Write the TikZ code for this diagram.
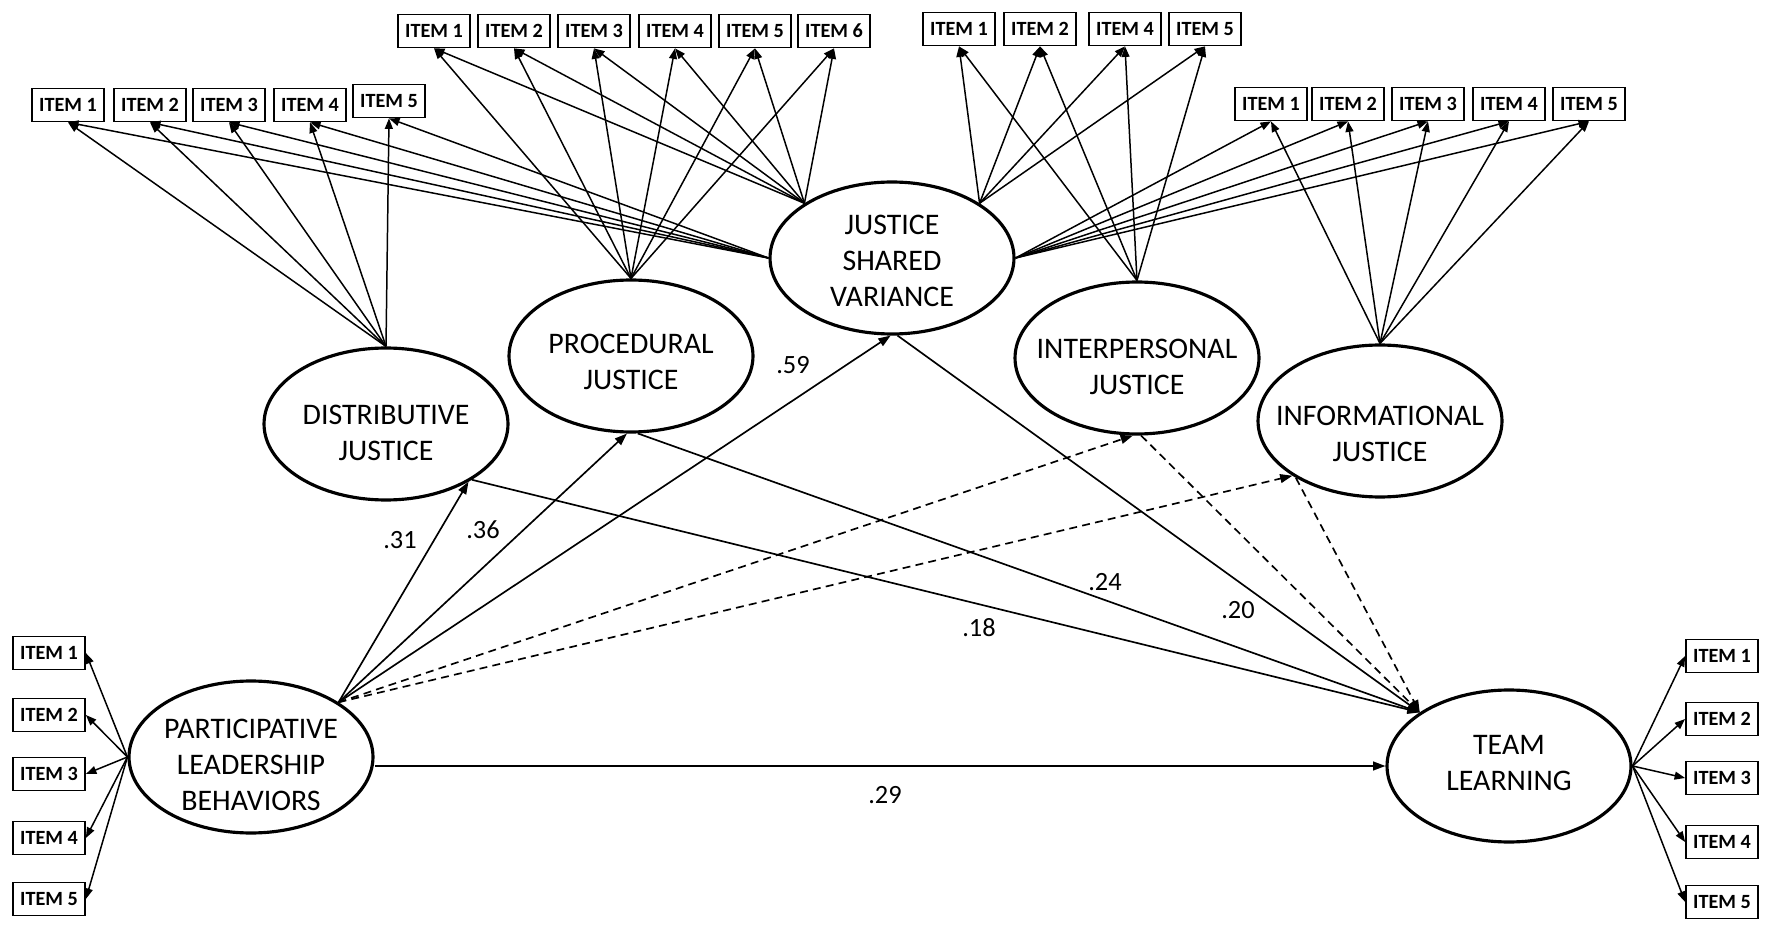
\documentclass[tikz,border=0pt]{standalone}
\usepackage{fontspec}
\setmainfont{Carlito}
\usetikzlibrary{arrows.meta,shapes.geometric}
\begin{document}
\begin{tikzpicture}[x=0.02cm,y=-0.02cm,
  lat/.style={draw,ellipse,line width=1.8pt,minimum width=4.88cm,minimum height=3.04cm,inner sep=0pt},
  lattext/.style={align=center,font=\fontsize{17}{20.5}\selectfont},
  item/.style={draw,rectangle,line width=1pt,minimum width=1.44cm,minimum height=0.66cm,inner sep=0pt,font=\fontsize{11.5}{13}\selectfont\bfseries},
  ld/.style={-{Triangle[length=6pt,width=4.5pt]},line width=0.85pt},
  strc/.style={-{Triangle[length=7pt,width=5pt]},line width=0.95pt},
  dsh/.style={strc,dash pattern=on 4.5pt off 3pt},
  coef/.style={font=\fontsize{15}{18}\selectfont}
]
\useasboundingbox (0,0) rectangle (1772,932);

% latent variables
\node[lat,label={[lattext,yshift=-0.18cm]center:{DISTRIBUTIVE\\JUSTICE}}] (dj) at (386,424) {};
\node[lat,label={[lattext,yshift=-0.12cm]center:{PROCEDURAL\\JUSTICE}}] (pj) at (631,356) {};
\node[lat,label={[lattext,yshift=-0.06cm]center:{JUSTICE\\SHARED\\VARIANCE}}] (jsv) at (892,258) {};
\node[lat,label={[lattext,yshift=-0.18cm]center:{INTERPERSONAL\\JUSTICE}}] (ipj) at (1137,358) {};
\node[lat,label={[lattext,yshift=-0.26cm]center:{INFORMATIONAL\\JUSTICE}}] (infj) at (1380,421) {};
\node[lat,label={[lattext,yshift=-0.16cm]center:{PARTICIPATIVE\\LEADERSHIP\\BEHAVIORS}}] (pl) at (251,757) {};
\node[lat,label={[lattext,yshift=0.06cm]center:{TEAM\\LEARNING}}] (tl) at (1509,766) {};

% indicator items
\foreach \i/\x/\y in {1/68/105,2/150/105,3/229/105,4/310/105,5/389/101}
  \node[item] (dji\i) at (\x,\y) {ITEM \i};
\foreach \i/\x in {1/434,2/514,3/594,4/675,5/755,6/834}
  \node[item] (pji\i) at (\x,31) {ITEM \i};
\foreach \i/\x in {1/959,2/1040,4/1125,5/1205}
  \node[item] (iji\i) at (\x,29) {ITEM \i};
\foreach \i/\x in {1/1271,2/1348,3/1428,4/1509,5/1589}
  \node[item] (ifi\i) at (\x,104) {ITEM \i};
\foreach \i/\y in {1/653,2/715,3/774,4/838,5/899}
  \node[item] (pli\i) at (49,\y) {ITEM \i};
\foreach \i/\y in {1/656,2/719,3/778,4/842,5/902}
  \node[item] (tli\i) at (1722,\y) {ITEM \i};

% loadings
\foreach \i in {1,...,5} {
  \draw[ld] (dj.north) -- (dji\i.south);
  \draw[ld] (jsv.west) -- (dji\i.south);
}
\foreach \i in {1,...,6} {
  \draw[ld] (pj.north) -- (pji\i.south);
  \draw[ld] (jsv.148) -- (pji\i.south);
}
\foreach \i in {1,2,4,5} {
  \draw[ld] (ipj.north) -- (iji\i.south);
  \draw[ld] (jsv.32) -- (iji\i.south);
}
\foreach \i in {1,...,5} {
  \draw[ld] (infj.north) -- (ifi\i.south);
  \draw[ld] (jsv.east) -- (ifi\i.south);
}
\foreach \i in {1,...,5} {
  \draw[ld] (pl.west) -- (pli\i.east);
  \draw[ld] (tl.east) -- (tli\i.west);
}

% structural paths
\draw[strc] (pl.32) -- (dj.-35);
\draw[strc] (pl.32) -- (pj.-93);
\draw[strc] (pl.32) -- (jsv.-91);
\draw[dsh] (pl.32) -- (ipj.-93);
\draw[dsh] (pl.32) -- (infj.212);
\draw[strc] (dj.-33) -- (tl.149);
\draw[strc] (pj.-85) -- (tl.149);
\draw[strc] (jsv.-86) -- (tl.149);
\draw[dsh] (ipj.-87) -- (tl.149);
\draw[dsh] (infj.-146) -- (tl.149);
\draw[strc] (pl.east |- tl.west) -- (tl.west);

% coefficients
\node[coef] (c31) at (400,540) {.31};
\node[coef] (c36) at (483,530) {.36};
\node[coef] (c59) at (793,365) {.59};
\node[coef] (c24) at (1105,582) {.24};
\node[coef] (c20) at (1238,610) {.20};
\node[coef] (c18) at (979,628) {.18};
\node[coef] (c29) at (885,795) {.29};
\end{tikzpicture}
\end{document}
